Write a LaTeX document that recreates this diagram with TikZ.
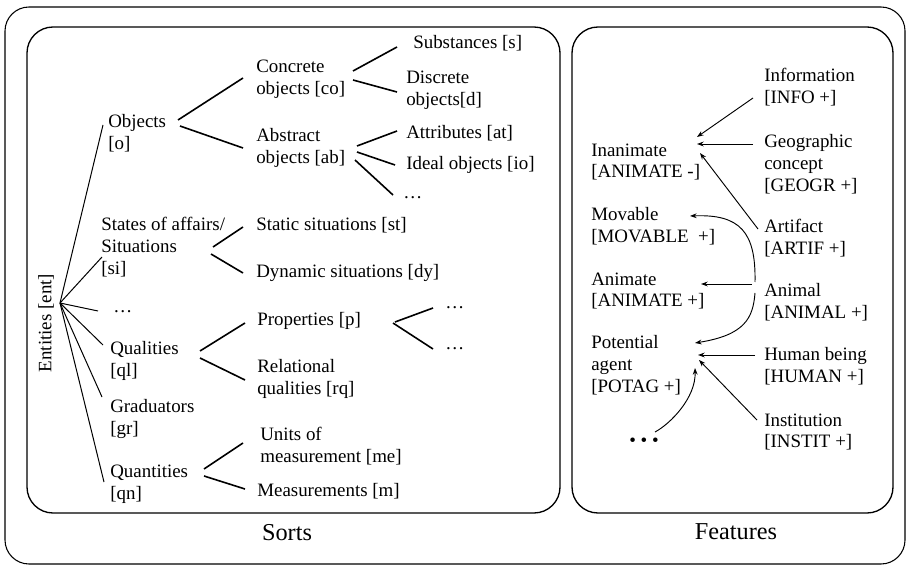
\documentclass[tikz,border=0pt]{standalone}
\usepackage{fontspec}
\setmainfont{Liberation Serif}
\usetikzlibrary{calc,arrows.meta}
\begin{document}
\begin{tikzpicture}[x=0.75pt,y=-0.75pt,
  lbl/.style={anchor=west,inner sep=0pt,align=left,font=\fontsize{14.2pt}{16.3pt}\selectfont},
  caption/.style={inner sep=0pt,font=\fontsize{18.2pt}{20pt}\selectfont},
  hubline/.style={line width=0.75pt},
  branch/.style={line width=1.2pt},
  feat/.style={line width=0.7pt,-{Stealth[length=5pt,width=3.6pt]}},
  panel/.style={line width=1pt,rounded corners=19.5pt}]
\useasboundingbox (0,0) rectangle (909,566);

% frames
\draw[line width=0.8pt,rounded corners=18pt] (5,7) rectangle (905,564);
\draw[panel] (27,27) rectangle (560,513);
\draw[panel] (572,27) rectangle (893,513);
\node[caption] (sorts) at (287,533) {Sorts};
\node[caption] (features) at (736,532) {Features};

% ---- sorts tree ----
\node[lbl,rotate=90,anchor=center] (ent) at (46,323) {Entities [ent]};
\node[lbl] (o) at (108,133) {Objects\\{}[o]};
\node[lbl] (co) at (256,79) {Concrete\\objects [co]};
\node[lbl] (ab) at (256,148) {Abstract\\objects [ab]};
\node[lbl] (s) at (413,43) {Substances [s]};
\node[lbl] (d) at (406,90) {Discrete\\objects[d]};
\node[lbl] (attr) at (406,133) {Attributes [at]};
\node[lbl] (io) at (406,165) {Ideal objects [io]};
\node[lbl] (abdots) at (403,198) {…};
\node[lbl] (si) at (101,247) {States of affairs/\\Situations\\{}[si]};
\node[lbl] (st) at (256,225) {Static situations [st]};
\node[lbl] (dy) at (256,273) {Dynamic situations [dy]};
\node[lbl] (entdots) at (113,312) {…};
\node[lbl] (ql) at (110,361) {Qualities\\{}[ql]};
\node[lbl] (p) at (257,321) {Properties [p]};
\node[lbl] (rq) at (257,379) {Relational\\qualities [rq]};
\node[lbl] (pdotsa) at (445,308) {…};
\node[lbl] (pdotsb) at (445,349) {…};
\node[lbl] (gr) at (110,419) {Graduators\\{}[gr]};
\node[lbl] (qn) at (110,484) {Quantities\\{}[qn]};
\node[lbl] (me) at (260,446) {Units of\\measurement [me]};
\node[lbl] (m) at (257,491) {Measurements [m]};

\coordinate (hub) at ($(ent.center)+(14,-20)$);
\draw[hubline] (hub) -- ($(o.west)+(-5,-8)$);
\draw[hubline] (hub) -- ($(si.west)+(1,10)$);
\draw[hubline] (hub) -- ($(entdots.west)+(-15,-1)$);
\draw[hubline] (hub) -- ($(ql.west)+(-7,-16)$);
\draw[hubline] (hub) -- ($(gr.west)+(-8,-22)$);
\draw[hubline] (hub) -- ($(qn.west)+(-6,-2)$);

\draw[branch] ($(o.west)+(70,-13)$) -- ($(co.west)+(-13,-1)$);
\draw[branch] ($(o.west)+(72,-7)$) -- ($(ab.west)+(-13,0)$);
\draw[branch] ($(co.west)+(97,-8)$) -- ($(s.west)+(-16,4)$);
\draw[branch] ($(co.west)+(97,1)$) -- ($(d.west)+(-9,2)$);
\draw[branch] ($(ab.west)+(101,-2)$) -- ($(attr.west)+(-9,-2)$);
\draw[branch] ($(ab.west)+(101,4)$) -- ($(io.west)+(-11,0)$);
\draw[branch] ($(ab.west)+(99,12)$) -- ($(abdots.west)+(-10,-3)$);
\draw[branch] ($(si.west)+(112,0)$) -- ($(st.west)+(-13,2)$);
\draw[branch] ($(si.west)+(110,7)$) -- ($(dy.west)+(-13,0)$);
\draw[branch] ($(ql.west)+(90,-10)$) -- ($(p.west)+(-12,2)$);
\draw[branch] ($(ql.west)+(90,-3)$) -- ($(rq.west)+(-12,1)$);
\draw[branch] ($(p.west)+(138,1)$) -- ($(pdotsa.west)+(-12,0)$);
\draw[branch] ($(p.west)+(136,2)$) -- ($(pdotsb.west)+(-12,0)$);
\draw[branch] ($(qn.west)+(94,-15)$) -- ($(me.west)+(-17,-3)$);
\draw[branch] ($(qn.west)+(94,-8)$) -- ($(m.west)+(-12,-2)$);

% ---- features ----
\node[lbl] (info) at (764,87) {Information\\{}[INFO +]};
\node[lbl] (geo) at (764,164) {Geographic\\concept\\{}[GEOGR +]};
\node[lbl] (inan) at (591,162) {Inanimate\\{}[ANIMATE -]};
\node[lbl] (mov) at (591,226) {Movable\\{}[MOVABLE\ \ +]};
\node[lbl] (art) at (764,238) {Artifact\\{}[ARTIF +]};
\node[lbl] (anim) at (591,291) {Animate\\{}[ANIMATE +]};
\node[lbl] (animal) at (764,302) {Animal\\{}[ANIMAL +]};
\node[lbl] (pot) at (591,365) {Potential\\agent\\{}[POTAG +]};
\node[lbl] (hum) at (764,366) {Human being\\{}[HUMAN +]};
\node[lbl] (inst) at (764,432) {Institution\\{}[INSTIT +]};
\node[inner sep=0pt,font=\fontsize{14.2pt}{16pt}\selectfont] (fdots) at (644,442) {• • •};

\draw[feat] ($(info.west)+(-11,11)$) -- ($(inan.west)+(106,-25)$);
\draw[feat] ($(geo.west)+(-11,-20)$) -- ($(inan.west)+(106,-18)$);
\draw[feat] ($(art.west)+(-6,-9)$) -- ($(inan.west)+(109,-9)$);
\draw[feat] ($(animal.west)+(-9,-20)$) .. controls +(1,-50) and +(50,-2) .. ($(mov.west)+(99,-10)$);
\draw[feat] ($(animal.west)+(-12,-18)$) -- ($(anim.west)+(110,-7)$);
\draw[feat] ($(animal.west)+(-9,-9)$) .. controls +(-2,25) and +(50,-8) .. ($(pot.west)+(104,-22)$);
\draw[feat] ($(hum.west)+(-9,-11)$) -- ($(pot.west)+(107,-10)$);
\draw[feat] ($(inst.west)+(-7,-12)$) -- ($(pot.west)+(108,-5)$);
\draw[feat] ($(fdots.center)+(11,-10)$) .. controls +(15,-8) and +(1,30) .. ($(pot.west)+(104,3)$);
\end{tikzpicture}
\end{document}
